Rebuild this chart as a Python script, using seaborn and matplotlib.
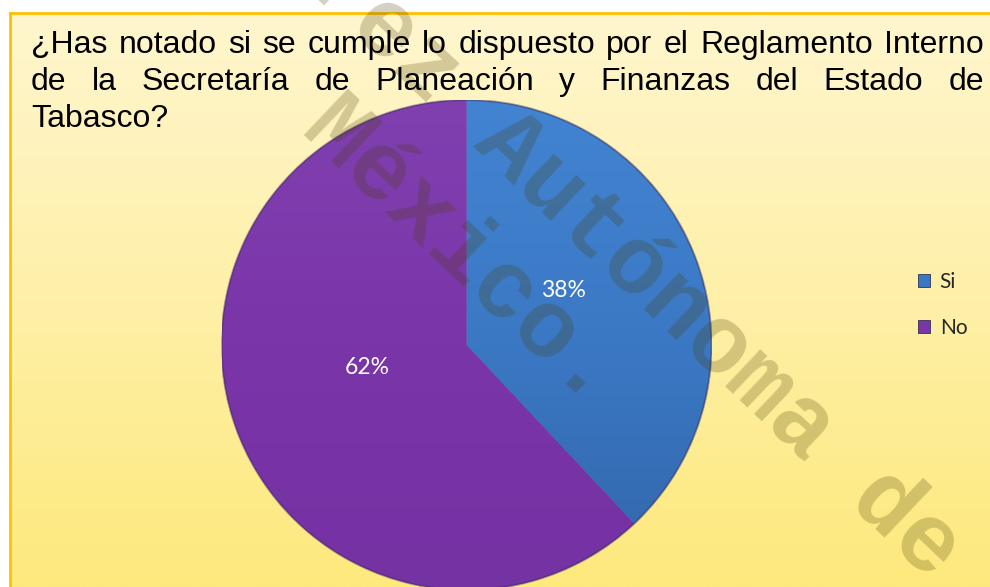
import numpy as np
import matplotlib
matplotlib.use("Agg")
import matplotlib.pyplot as plt
from matplotlib.colors import LinearSegmentedColormap
import seaborn as sns

# ---- data ----
categories = ["Si", "No"]
values = [38, 62]
title_lines = [
    "¿Has notado si se cumple lo dispuesto por el Reglamento Interno",
    "de la Secretaría de Planeación y Finanzas del Estado de",
    "Tabasco?",
]
watermark_line1_pre = "Universidad Juárez"
watermark_line1 = "Autónoma de Tabasco"
watermark_line2 = "México."

sns.set_theme(style="white")
plt.rcParams["font.family"] = ["Liberation Sans", "DejaVu Sans"]

W, H = 990, 587
fig = plt.figure(figsize=(W / 100, H / 100), dpi=100)
fig.patch.set_facecolor("white")

def fx(x):
    return x / W

def fy(y):
    return 1 - y / H

# ---- background panel with gradient ----
bg = fig.add_axes([fx(10), 0, 1 - fx(10), fy(13)])
bg.set_zorder(0)
grad = np.linspace(0, 1, 256).reshape(-1, 1)
bg_cmap = LinearSegmentedColormap.from_list("bg", ["#FFF6CE", "#FEF0A8", "#FDE97C"])
bg.imshow(grad, aspect="auto", cmap=bg_cmap, extent=[0, 1, 0, 1], origin="upper")
bg.set_xlim(0, 1)
bg.set_ylim(0, 1)
bg.set_xticks([])
bg.set_yticks([])
for side, sp in bg.spines.items():
    if side in ("left", "top"):
        sp.set_visible(True)
        sp.set_color("#FFC000")
        sp.set_linewidth(2)
    else:
        sp.set_visible(False)

# ---- pie ----
cx, cy, r = 466.5, 345, 245
ax = fig.add_axes([fx(cx - r), fy(cy + r), 2 * r / W, 2 * r / H])
ax.set_zorder(1)
ax.patch.set_alpha(0)
palette = sns.color_palette(["#3B78C4", "#7A35A8"])
wedges, texts, autotexts = ax.pie(
    values,
    colors=palette,
    startangle=90,
    counterclock=False,
    autopct="%1.0f%%",
    pctdistance=0.43,
    radius=1,
    wedgeprops=dict(linewidth=0),
    textprops=dict(color="white", fontsize=16.5, family=["Lato", "DejaVu Sans"]),
)
grad_maps = [
    LinearSegmentedColormap.from_list("b", ["#4284D2", "#3B78C4", "#3265AA"]),
    LinearSegmentedColormap.from_list("p", ["#8040B0", "#7A35A8", "#7532A3"]),
]
for w, cm in zip(wedges, grad_maps):
    im = ax.imshow(grad, cmap=cm, extent=[-1, 1, -1, 1], origin="upper",
                   aspect="auto", zorder=1.5)
    im.set_clip_path(w)
for w in wedges:
    w.set_zorder(1.4)
outline = plt.Circle((0, 0), 1, fill=False, edgecolor="#3a2a60", alpha=0.45,
                     linewidth=1.5, zorder=1.8)
ax.add_patch(outline)
ax.set_xlim(-1, 1)
ax.set_ylim(-1, 1)
ax.set_aspect("auto")
ax.axis("off")
for t in autotexts:
    x, y = t.get_position()
    t.set_position((x - 0.005, y + 0.065))
    t.set_zorder(10)

# ---- legend ----
leg = ax.legend(
    wedges, categories,
    loc="upper left",
    bbox_to_anchor=(fx(899), fy(253)),
    bbox_transform=fig.transFigure,
    frameon=False,
    handlelength=0.6,
    handleheight=0.6,
    handletextpad=0.45,
    labelspacing=1.25,
    prop=dict(family=["Lato", "DejaVu Sans"], size=15),
)
for h in leg.legend_handles:
    h.set_edgecolor("#333355")
    h.set_linewidth(0.6)
leg.set_zorder(9)

# ---- watermark ----
ang = 43.5
wfs = 69
d = np.array([np.cos(np.radians(ang)), np.sin(np.radians(ang))])
wm_kw = dict(rotation=-ang, rotation_mode="anchor", va="baseline",
             family=["Liberation Mono", "DejaVu Sans Mono"], fontweight="bold",
             fontsize=wfs, color="#4a3c00", alpha=0.24, zorder=5,
             transform=fig.transFigure, clip_on=False)
adv = 0.6 * wfs * 100 / 72
a1 = np.array([472.0, 146.0])
ax.text(fx(a1[0]), fy(a1[1]), watermark_line1, ha="left", **wm_kw)
p = a1 - adv * d
ax.text(fx(p[0]), fy(p[1]), watermark_line1_pre, ha="right", **wm_kw)
a2 = np.array([298.0, 134.0])
ax.text(fx(a2[0]), fy(a2[1]), watermark_line2, ha="left", **wm_kw)

# ---- justified title ----
renderer = fig.canvas.get_renderer()
tkw = dict(fontsize=23, color="black", va="baseline", zorder=20,
           family=["Liberation Sans", "DejaVu Sans"])
left, right = 31, 984
baselines = [53, 90, 127]
for i, (line, yb) in enumerate(zip(title_lines, baselines)):
    words = line.split(" ")
    if i == len(title_lines) - 1:
        fig.text(fx(left), fy(yb), line, ha="left", **tkw)
        continue
    widths = []
    for wd in words:
        t = fig.text(0, 0, wd, **tkw)
        widths.append(t.get_window_extent(renderer).width)
        t.remove()
    gap = (right - left - sum(widths)) / (len(words) - 1)
    x = left
    for wd, wdt in zip(words, widths):
        fig.text(fx(x), fy(yb), wd, ha="left", **tkw)
        x += wdt + gap

fig.savefig("out.png", dpi=100, facecolor="white")
